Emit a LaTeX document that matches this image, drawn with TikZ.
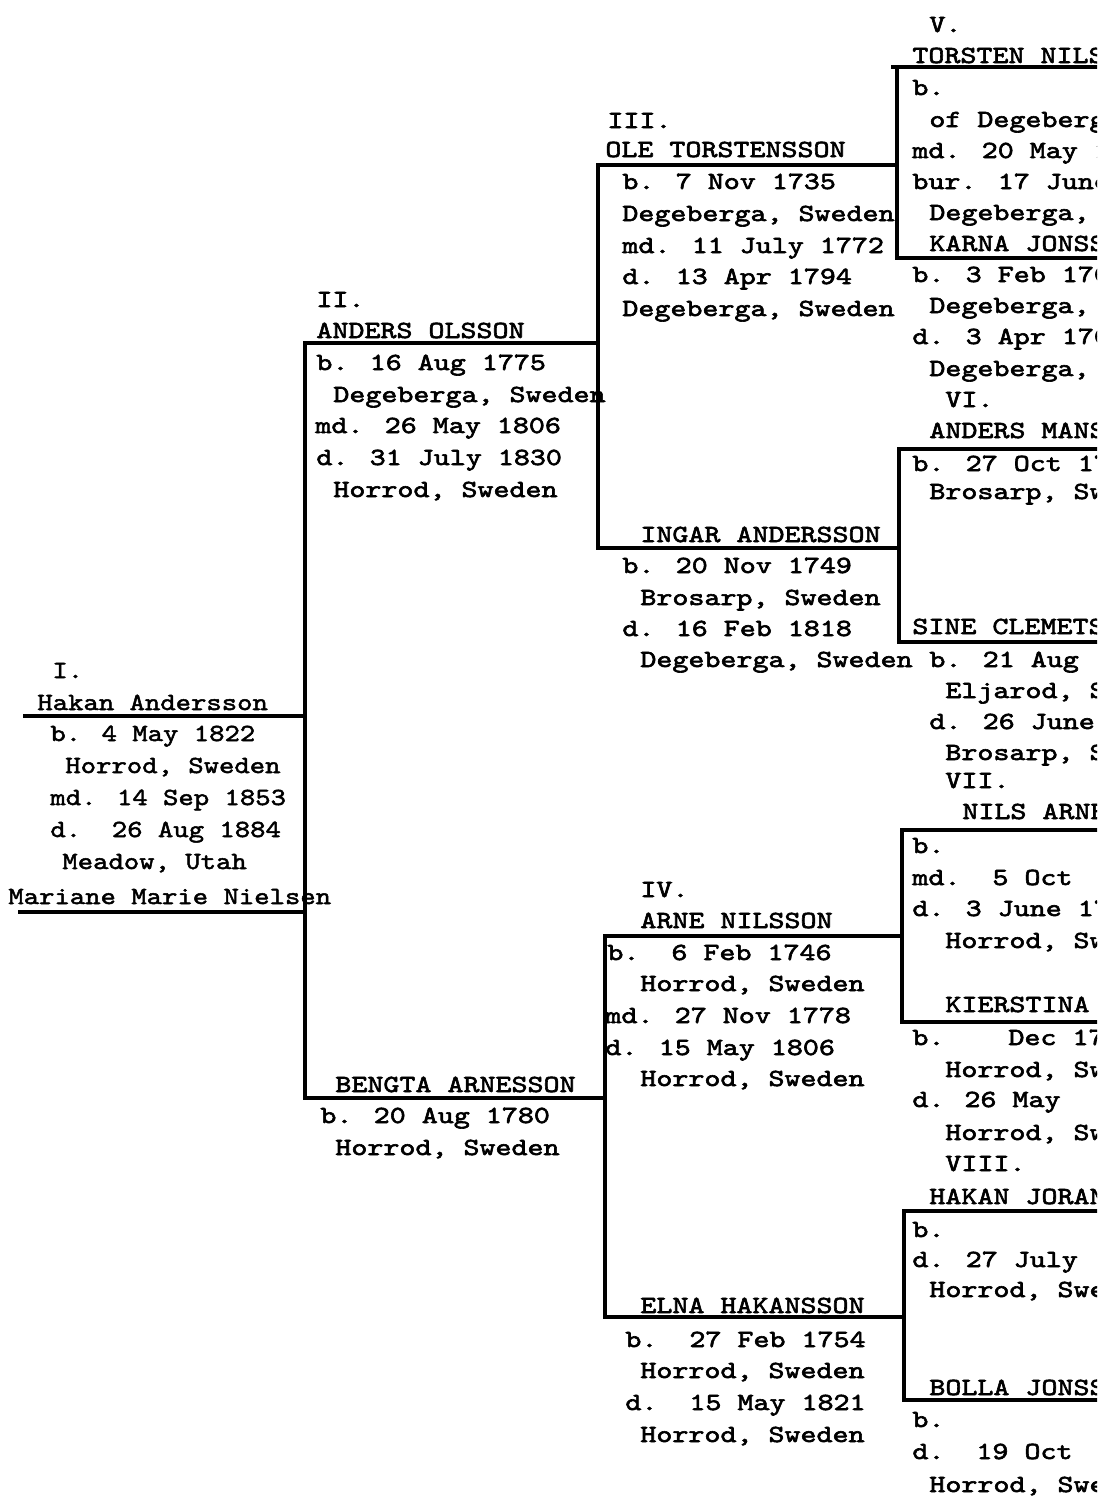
\documentclass[tikz,border=0pt]{standalone}
\usepackage{fontspec}
\newfontfamily\tw{lmmono10-regular.otf}[FakeStretch=1.24,FakeBold=2.5]
\newfontfamily\twa{lmmono10-regular.otf}[FakeStretch=1.19,FakeBold=2]
\begin{document}
\begin{tikzpicture}[x=0.5pt,y=-0.5pt,
  t/.style={anchor=base west,inner sep=0pt,font={\tw\fontsize{12.3}{16}\selectfont}},
  ta/.style={anchor=base west,inner sep=0pt,font={\twa\fontsize{12.3}{16}\selectfont}},
  ln/.style={line width=1.6pt,line cap=rect}]
\useasboundingbox (0,0) rectangle (1104,1501);
\clip (0,0) rectangle (1097,1501);
% ---------- junction coordinates ----------
\coordinate (h1l) at (25,716);   \coordinate (h1r) at (305,716);
\coordinate (m1l) at (20,912);   \coordinate (m1r) at (305,912);
\coordinate (f2) at (305,343);   \coordinate (f2r) at (598,343);
\coordinate (m2) at (305,1098);  \coordinate (m2r) at (605,1098);
\coordinate (f3) at (598,165);   \coordinate (f3r) at (897,165);
\coordinate (m3) at (598,548);   \coordinate (m3r) at (899,548);
\coordinate (f4) at (605,936);   \coordinate (f4r) at (902,936);
\coordinate (m4) at (605,1317);  \coordinate (m4r) at (904,1317);
\coordinate (v5t) at (897,67);   \coordinate (v5b) at (897,258);
\coordinate (v5tl) at (893,67);  \coordinate (v5te) at (1097,67); \coordinate (v5be) at (1097,258);
\coordinate (v6t) at (899,449);  \coordinate (v6b) at (899,642);
\coordinate (v6te) at (1097,449); \coordinate (v6be) at (1097,642);
\coordinate (v7t) at (902,830);  \coordinate (v7b) at (902,1022);
\coordinate (v7te) at (1097,830); \coordinate (v7be) at (1097,1022);
\coordinate (v8t) at (904,1211); \coordinate (v8b) at (904,1400);
\coordinate (v8te) at (1097,1211); \coordinate (v8be) at (1097,1400);
% ---------- lines ----------
\draw[ln] (h1l) -- (h1r);
\draw[ln] (m1l) -- (m1r);
\draw[ln] (f2) -- (m2);
\draw[ln] (f2) -- (f2r);
\draw[ln] (m2) -- (m2r);
\draw[ln] (f3) -- (m3);
\draw[ln] (f3) -- (f3r);
\draw[ln] (m3) -- (m3r);
\draw[ln] (f4) -- (m4);
\draw[ln] (f4) -- (f4r);
\draw[ln] (m4) -- (m4r);
\draw[ln] (v5t) -- (v5b);
\draw[ln] (v5tl) -- (v5te);
\draw[ln] (v5b) -- (v5be);
\draw[ln] (v6t) -- (v6b);
\draw[ln] (v6t) -- (v6te);
\draw[ln] (v6b) -- (v6be);
\draw[ln] (v7t) -- (v7b);
\draw[ln] (v7t) -- (v7te);
\draw[ln] (v7b) -- (v7be);
\draw[ln] (v8t) -- (v8b);
\draw[ln] (v8t) -- (v8te);
\draw[ln] (v8b) -- (v8be);
% ---------- generation I ----------
\node[ta] (i0) at (52,678) {I.};
\node[ta] (i1) at (37,710) {Hakan Andersson};
\node[ta] (i2) at (50,741) {b. 4 May 1822};
\node[ta] (i3) at (65,773) {Horrod, Sweden};
\node[ta] (i4) at (50,805) {md. 14 Sep 1853};
\node[ta] (i5) at (50,837) {d.~~26 Aug 1884};
\node[ta] (i6) at (62,869) {Meadow, Utah};
\node[ta] (i7) at (8,904) {Mariane Marie Nielsen};
% ---------- generation II ----------
\node[t] (ii0) at (316,307) {II.};
\node[t] (ii1) at (316,338) {ANDERS OLSSON};
\node[t] (ii2) at (316,370) {b. 16 Aug 1775};
\node[t] (ii3) at (333,402) {Degeberga, Sweden};
\node[t] (ii4) at (315,433) {md. 26 May 1806};
\node[t] (ii5) at (316,465) {d. 31 July 1830};
\node[t] (ii6) at (333,497) {Horrod, Sweden};
\node[t] (ii7) at (335,1092) {BENGTA ARNESSON};
\node[t] (ii8) at (320,1123) {b. 20 Aug 1780};
\node[t] (ii9) at (335,1155) {Horrod, Sweden};
% ---------- generation III ----------
\node[t] (iii0) at (607,128) {III.};
\node[t] (iii1) at (605,157) {OLE TORSTENSSON};
\node[t] (iii2) at (622,189) {b. 7 Nov 1735};
\node[t] (iii3) at (622,221) {Degeberga, Sweden};
\node[t] (iii4) at (622,253) {md. 11 July 1772};
\node[t] (iii5) at (622,284) {d. 13 Apr 1794};
\node[t] (iii6) at (622,316) {Degeberga, Sweden};
\node[t] (iii7) at (640,542) {INGAR ANDERSSON};
\node[t] (iii8) at (622,573) {b. 20 Nov 1749};
\node[t] (iii9) at (640,605) {Brosarp, Sweden};
\node[t] (iii10) at (622,636) {d. 16 Feb 1818};
\node[t] (iii11) at (640,667) {Degeberga, Sweden};
% ---------- generation IV ----------
\node[t] (iv0) at (640,897) {IV.};
\node[t] (iv1) at (640,928) {ARNE NILSSON};
\node[t] (iv2) at (607,960) {b.~~6 Feb 1746};
\node[t] (iv3) at (640,991) {Horrod, Sweden};
\node[t] (iv4) at (605,1023) {md. 27 Nov 1778};
\node[t] (iv5) at (605,1055) {d. 15 May 1806};
\node[t] (iv6) at (640,1086) {Horrod, Sweden};
\node[t] (iv7) at (640,1313) {ELNA HAKANSSON};
\node[t] (iv8) at (625,1347) {b.~~27 Feb 1754};
\node[t] (iv9) at (640,1378) {Horrod, Sweden};
\node[t] (iv10) at (625,1410) {d.~~15 May 1821};
\node[t] (iv11) at (640,1442) {Horrod, Sweden};
% ---------- right column (cut at the edge) ----------
\node[t] (v0) at (929,32) {V.};
\node[t] (v1) at (912,63) {TORSTEN NILS};
\node[t] (v2) at (912,95) {b.};
\node[t] (v3) at (929,127) {of Degeberg};
\node[t] (v4) at (912,158) {md. 20 May 1};
\node[t] (v5) at (912,189) {bur. 17 June};
\node[t] (v6) at (929,220) {Degeberga,};
\node[t] (v7) at (929,251) {KARNA JONSS};
\node[t] (v8) at (912,282) {b. 3 Feb 170};
\node[t] (v9) at (929,313) {Degeberga,};
\node[t] (v10) at (912,344) {d. 3 Apr 170};
\node[t] (v11) at (929,376) {Degeberga,};
\node[t] (vi0) at (945,407) {VI.};
\node[t] (vi1) at (929,438) {ANDERS MANS};
\node[t] (vi2) at (912,471) {b. 27 Oct 17};
\node[t] (vi3) at (929,499) {Brosarp, Sw};
\node[t] (vi4) at (912,634) {SINE CLEMETS};
\node[t] (vi5) at (929,667) {b. 21 Aug 1};
\node[t] (vi6) at (945,698) {Eljarod, S};
\node[t] (vi7) at (929,729) {d. 26 June};
\node[t] (vi8) at (945,760) {Brosarp, S};
\node[t] (vii0) at (945,788) {VII.};
\node[t] (vii1) at (962,819) {NILS ARNE};
\node[t] (vii2) at (912,853) {b.};
\node[t] (vii3) at (912,885) {md.~~5 Oct};
\node[t] (vii4) at (912,916) {d. 3 June 17};
\node[t] (vii5) at (945,948) {Horrod, Sw};
\node[t] (vii6) at (945,1012) {KIERSTINA};
\node[t] (vii7) at (912,1045) {b.~~~~Dec 17};
\node[t] (vii8) at (945,1077) {Horrod, Sw};
\node[t] (vii9) at (912,1107) {d.~\kern2pt 26 May};
\node[t] (vii10) at (945,1140) {Horrod, Sw};
\node[t] (viii0) at (945,1171) {VIII.};
\node[t] (viii1) at (929,1204) {HAKAN JORAN};
\node[t] (viii2) at (912,1237) {b.};
\node[t] (viii3) at (912,1267) {d. 27 July};
\node[t] (viii4) at (929,1297) {Horrod, Swe};
\node[t] (viii5) at (929,1395) {BOLLA JONSS};
\node[t] (viii6) at (912,1427) {b.};
\node[t] (viii7) at (912,1459) {d.~~19 Oct};
\node[t] (viii8) at (929,1492) {Horrod, Swe};
\end{tikzpicture}
\end{document}
